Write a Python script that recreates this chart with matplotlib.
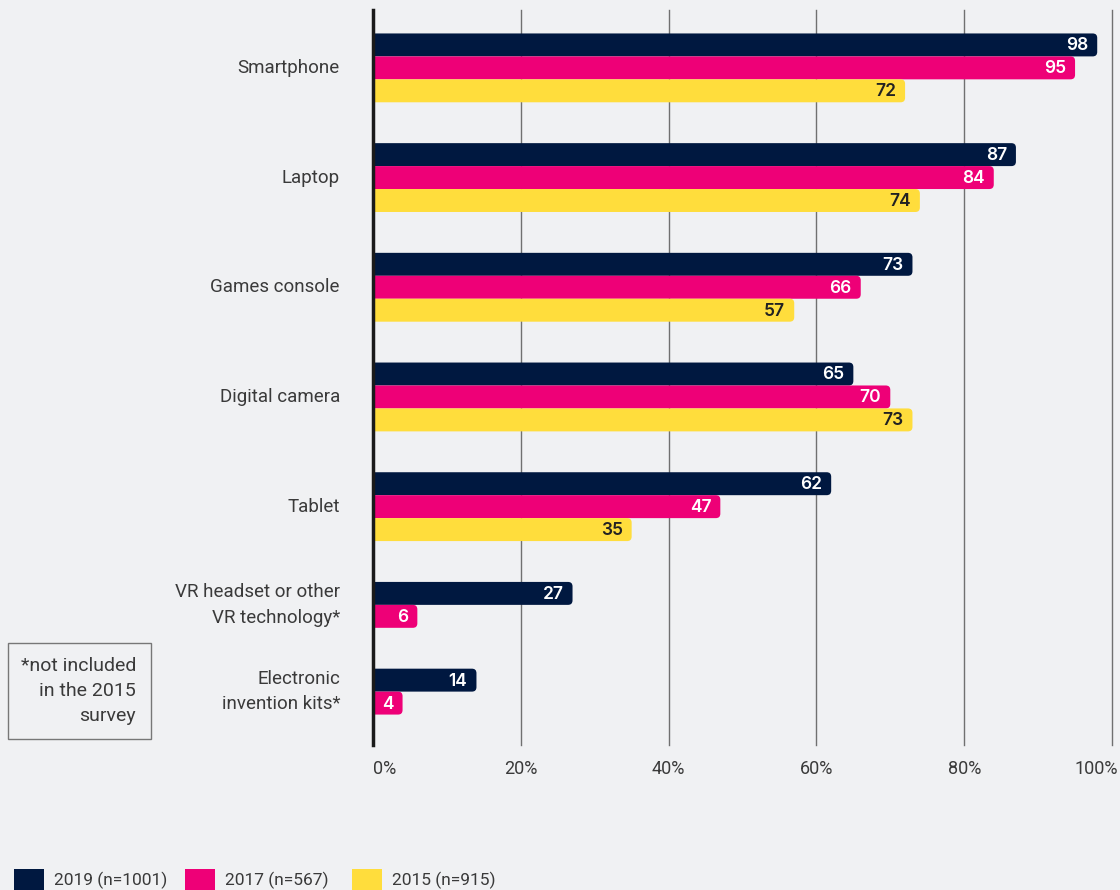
import matplotlib.pyplot as plt
from matplotlib.patches import FancyBboxPatch, Rectangle
from matplotlib.transforms import ScaledTranslation
import numpy as np

categories = ['Smartphone', 'Laptop', 'Games console', 'Digital camera', 'Tablet',
              'VR headset or other\nVR technology*', 'Electronic\ninvention kits*']
years = ['2019 (n=1001)', '2017 (n=567)', '2015 (n=915)']
v2019 = [98, 87, 73, 65, 62, 27, 14]
v2017 = [95, 84, 66, 70, 47, 6, 4]
v2015 = [72, 74, 57, 73, 35, None, None]
series = [v2019, v2017, v2015]

colors = ['#001840', '#ee0077', '#ffdd3c']
label_colors = ['white', 'white', '#222222']
bg = '#f0f1f3'
txt = '#3a3a3a'

plt.rcParams['font.family'] = ['Roboto', 'DejaVu Sans']

fig = plt.figure(figsize=(11.2, 8.9), dpi=100, facecolor=bg)
ax = fig.add_axes([373 / 1120, 1 - 745 / 890, (1112 - 373) / 1120, (745 - 10) / 890])
ax.set_facecolor(bg)

# row positions: bars stacked without gaps, fixed gap between groups
gap = 1.78
group_start = []
pos = 0.0
for i in range(len(categories)):
    group_start.append(pos)
    n = sum(1 for s in series if s[i] is not None)
    pos += n + gap

# px per unit (x: percent, y: row)
px_x = 739 / 100
px_y = 23.0
radius = 4.5
for i, cat in enumerate(categories):
    k = 0
    for s, c, lc in zip(series, colors, label_colors):
        v = s[i]
        if v is None:
            continue
        y = group_start[i] + k
        h = 1.0
        patch = FancyBboxPatch((-2, y - h / 2), v + 2, h,
                               boxstyle=f'round,pad=0,rounding_size={radius / px_x}',
                               mutation_aspect=px_x / px_y,
                               facecolor=c, edgecolor='none', zorder=3)
        ax.add_patch(patch)
        ax.text(v - 9 / px_x, y + 0.04, str(v), ha='right', va='center',
                color=lc, fontsize=12.5, fontweight='semibold', zorder=4,
                family=['Inter', 'DejaVu Sans'])
        k += 1
    center = group_start[i] + (k - 1) / 2
    ax.text(-33 / px_x, center, cat, ha='right', va='center', color=txt,
            fontsize=13.5, linespacing=1.55, clip_on=False)

ax.set_xlim(0, 100)
ax.set_ylim(group_start[-1] + 1 + 42 / px_y, -35 / px_y)

ax.set_xticks(np.arange(0, 101, 20))
ax.set_xticklabels([f'{t}%' for t in range(0, 101, 20)])
ax.tick_params(axis='x', length=0, pad=11, labelsize=13, labelcolor=txt)
ax.tick_params(axis='y', left=False, labelleft=False)
labels = ax.get_xticklabels()
labels[0].set_ha('left')
labels[-1].set_ha('right')
labels[-1].set_transform(labels[-1].get_transform() + ScaledTranslation(6 / 100, 0, fig.dpi_scale_trans))
ax.grid(axis='x', color='#707070', linewidth=1.0, zorder=0)
for gl in ax.get_xgridlines():
    gl.set_clip_on(False)
ax.set_axisbelow(True)
for side in ['top', 'right', 'bottom']:
    ax.spines[side].set_visible(False)
ax.spines['left'].set_color('#1a1a1a')
ax.spines['left'].set_linewidth(2.5)
ax.spines['left'].set_zorder(5)

# footnote box
fig.patches.append(Rectangle((8 / 1120, 1 - 739 / 890), 143 / 1120, 96 / 890,
                             transform=fig.transFigure, facecolor='none',
                             edgecolor='#777777', linewidth=1.0))
fig.text(136 / 1120, 1 - 691 / 890, '*not included\nin the 2015\nsurvey',
         ha='right', va='center', color=txt, fontsize=14, linespacing=1.5)

# legend along the bottom edge
lx = [14, 185, 352]
for x0, c, lab in zip(lx, colors, years):
    fig.patches.append(Rectangle((x0 / 1120, 1 - 890 / 890), 30 / 1120, 21 / 890,
                                 transform=fig.transFigure, facecolor=c,
                                 edgecolor='none'))
    fig.text((x0 + 40) / 1120, 1 - 880 / 890, lab, ha='left', va='center',
             color=txt, fontsize=12.5)

fig.savefig('out.png', dpi=100, facecolor=bg)
